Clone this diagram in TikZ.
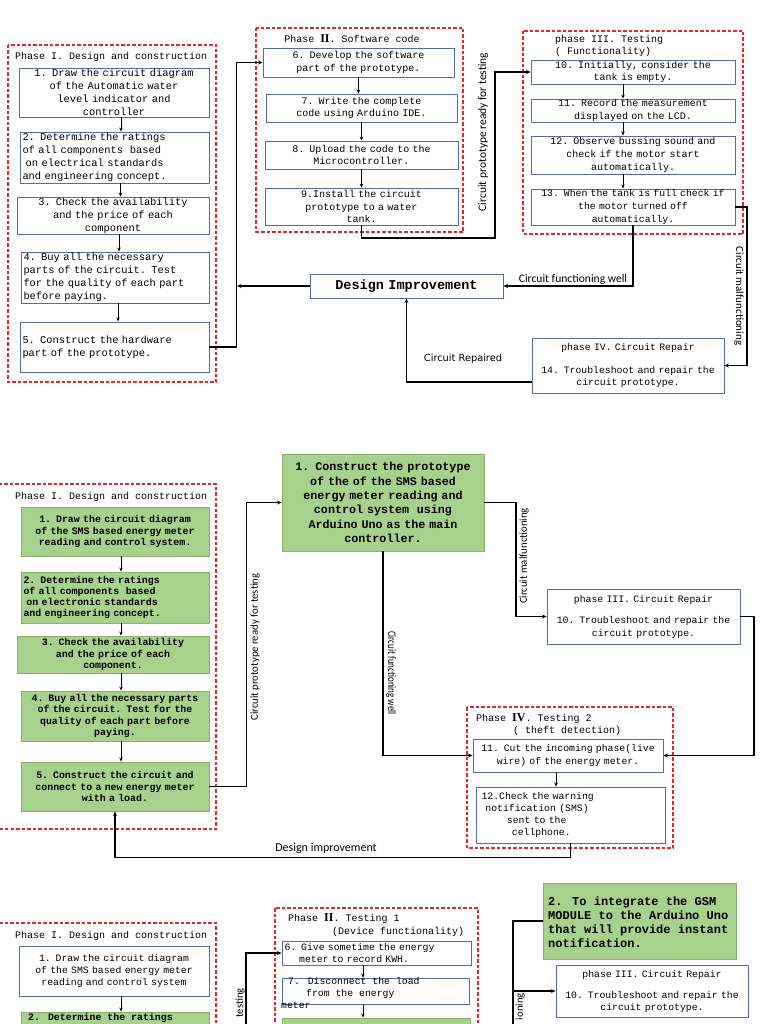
\documentclass[tikz,border=0pt]{standalone}
\usepackage{fontspec}
\setmainfont{Liberation Mono}
\newfontfamily\lab{Carlito}
\newfontfamily\labc[FakeStretch=0.78]{Carlito}
\newfontfamily\dv{DejaVu Sans}
\newfontfamily\ser{Liberation Serif}
\usetikzlibrary{arrows.meta}
\definecolor{bblue}{RGB}{80,110,160}
\definecolor{dred}{RGB}{226,40,44}
\definecolor{gfill}{RGB}{169,209,142}
\definecolor{gline}{RGB}{135,178,105}
\newcommand\mybox[7]{%
 \pgfmathsetmacro\myBW{(#5)-(#3)}\pgfmathsetmacro\myBH{(#6)-(#4)}%
 \pgfmathsetmacro\myBX{((#3)+(#5))/2}\pgfmathsetmacro\myBY{((#4)+(#6))/2}%
 \pgfmathsetmacro\myTW{\myBW-5}%
 \node[minimum width=\myBW pt, minimum height=\myBH pt, text width=\myTW pt, #1] (#2) at (\myBX,\myBY) {#7};}
\begin{document}
\begin{tikzpicture}[x=1pt,y=-1pt,
 wbox/.style={draw=bblue, line width=0.9pt, fill=white, inner xsep=2pt, inner ysep=0pt, align=center, font=\fontsize{10}{12.6}\selectfont},
 tf/.style={font=\fontsize{10.4}{13}\selectfont},
 gbox/.style={draw=gline, fill=gfill, line width=0.9pt, inner xsep=2pt, inner ysep=0pt, align=center, font=\bfseries\fontsize{9.9}{11.3}\selectfont},
 redframe/.style={draw=dred, dash pattern=on 3.5pt off 2pt, line width=1.3pt},
 ttl/.style={font=\fontsize{10}{12}\selectfont, inner sep=0pt},
 gtxt/.style={font=\bfseries\fontsize{9.9}{11.3}\selectfont, inner sep=0pt},
 lbl/.style={font=\lab\fontsize{11}{13}\selectfont, inner sep=0pt},
 sarr/.style={line width=0.8pt, -{Stealth[length=4pt,width=3.5pt]}},
 arr/.style={line width=1.3pt, -{Stealth[length=4.5pt,width=4pt]}},
 conn/.style={line width=1.3pt}]
\useasboundingbox (0,0) rectangle (768,1024);
\clip (0,0) rectangle (768,1024);
\fill[white] (0,0) rectangle (768,1024);

% ================= TOP =================
\draw[redframe] (8,45) rectangle (216,382);
\node[ttl, anchor=base west] (p1t) at (15,60) {Phase I. Design and construction};
\mybox{wbox,tf}{b1}{19}{68}{209}{117}{1. Draw the circuit diagram\\of the Automatic water\\level indicator and\\controller}
\mybox{wbox,tf,align=left}{b2}{20}{132}{209}{183}{2. Determine the ratings\\of all components~ based\\\hspace*{0.3em}on electrical standards\\and engineering concept.}
\mybox{wbox,tf}{b3}{17}{197}{209}{234}{3. Check the availability\\and the price of each\\component}
\mybox{wbox,tf,align=left}{b4}{21}{252}{209}{303}{4. Buy all the necessary\\parts of the circuit. Test\\for the quality of each part\\before paying.}
\mybox{wbox,tf,align=left}{b5}{20}{322}{209}{372}{5. Construct the hardware\\part of the prototype.}
\draw[sarr] ([xshift=7]b1.south) -- ([xshift=7]b1.south |- b2.north);
\draw[sarr] ([xshift=6]b2.south) -- ([xshift=6]b2.south |- b3.north);
\draw[sarr] ([xshift=6]b3.south) -- ([xshift=6]b3.south |- b4.north);
\draw[sarr] ([xshift=3]b4.south) -- ([xshift=3]b4.south |- b5.north);

\draw[redframe] (256,28) rectangle (463,232);
\node[ttl, anchor=base] (p2t) at (352,43) {Phase {\ser\bfseries\fontsize{12}{12}\selectfont II}. Software code};
\mybox{wbox}{b6}{263}{48}{454}{77}{6. Develop the software\\part of the prototype.}
\mybox{wbox}{b7}{266}{94}{457}{122}{7. Write the complete\\code using Arduino IDE.}
\mybox{wbox}{b8}{265}{141}{458}{169}{8. Upload the code to the\\Microcontroller.}
\mybox{wbox}{b9}{265}{188}{458}{225}{9.Install the circuit\\prototype to a water\\tank.}
\draw[sarr] (b6.south) -- (b6.south |- b7.north);
\draw[sarr] (b7.south) -- (b7.south |- b8.north);
\draw[sarr] (b8.south) -- (b8.south |- b9.north);

\draw[redframe] (523,31) rectangle (743,234);
\node[ttl, anchor=base west] (p3t) at (555,43) {phase III. Testing};
\node[ttl, anchor=base west] (p3s) at (555,55) {( Functionality)};
\mybox{wbox}{b10}{531}{60}{735}{84}{10. Initially, consider the\\tank is empty.}
\mybox{wbox}{b11}{531}{99}{735}{122}{11. Record the measurement\\displayed on the LCD.}
\mybox{wbox}{b12}{531}{136}{735}{174}{12. Observe bussing sound and\\check if the motor start\\automatically.}
\mybox{wbox,inner xsep=1pt,text width=202pt,font=\fontsize{9.8}{12.6}\selectfont}{b13}{531}{189}{735}{225}{13. When the tank is full check if\\the motor turned off\\automatically.}
\draw[sarr] ([xshift=-10]b10.south) -- ([xshift=-10]b10.south |- b11.north);
\draw[sarr] ([xshift=-10]b11.south) -- ([xshift=-10]b11.south |- b12.north);
\draw[sarr] ([xshift=-10]b12.south) -- ([xshift=-10]b12.south |- b13.north);

\mybox{wbox,font=\bfseries\fontsize{13.5}{14}\selectfont}{di}{310}{274}{503}{298}{Design Improvement}
\mybox{wbox,font=\fontsize{9.8}{12.3}\selectfont}{b14}{532}{338}{724}{393}{phase IV. Circuit Repair\\[10pt]14. Troubleshoot and repair the\\circuit prototype.}

\draw[arr] (b5.east) -- ++(27,0) |- (b6.west);
\coordinate (c1) at (495,238);
\draw[arr] (b9.south) |- (c1) |- (b10.west);
\coordinate (c2) at (747,207);
\draw[arr] (b13.east) -- (c2) |- (b14.east);
\draw[arr] (b13.south -| 633,0) |- (di.east);
\coordinate (c3) at (237,286);
\draw[arr] (di.west) -- (c3);
\draw[arr] ([yshift=-16.5]b14.west) -| (di.south);

\node[lbl, rotate=90, font=\lab\fontsize{11.5}{13}\selectfont] (l1) at (483,132) {Circuit prototype ready for testing};
\node[lbl, rotate=-90] (l2) at (739,296) {Circuit malfunctioning};
\node[lbl, anchor=base, font=\lab\fontsize{11.6}{13}\selectfont] (l3) at (573,282) {Circuit functioning well};
\node[lbl, font=\dv\fontsize{9.8}{11}\selectfont] (l4) at (463,359) {Circuit Repaired};

% ================= MIDDLE =================
\draw[redframe] (-2,484) rectangle (216,829);
\node[ttl, anchor=base west] (m1t) at (15,499) {Phase I. Design and construction};
\mybox{gbox}{g1}{21}{507}{209}{556}{1. Draw the circuit diagram\\of the SMS based energy meter\\reading and control system.}
\mybox{gbox,align=left}{g2}{21}{572}{209}{623}{2. Determine the ratings\\of all components~ based\\\hspace*{0.3em}on electronic standards\\and engineering concept.}
\mybox{gbox}{g3}{17}{636}{209}{673}{3. Check the availability\\and the price of each\\component.}
\mybox{gbox}{g4}{21}{691}{209}{741}{4. Buy all the necessary parts\\of the circuit. Test for the\\quality of each part before\\paying.}
\mybox{gbox}{g5}{21}{762}{209}{811}{5. Construct the circuit and\\connect to a new energy meter\\with a load.}
\draw[sarr] ([xshift=6]g1.south) -- ([xshift=6]g1.south |- g2.north);
\draw[sarr] ([xshift=6]g2.south) -- ([xshift=6]g2.south |- g3.north);
\draw[sarr] ([xshift=8]g3.south) -- ([xshift=8]g3.south |- g4.north);
\draw[sarr] ([xshift=6]g4.south) -- ([xshift=6]g4.south |- g5.north);

\mybox{gbox,font=\bfseries\fontsize{11.7}{14.3}\selectfont}{gbig}{282}{454}{484}{551}{1. Construct the prototype\\of the of the SMS based\\energy meter reading and\\control system~ using\\Arduino Uno as the main\\controller.}
\mybox{wbox,font=\fontsize{9.8}{12.5}\selectfont}{rep1}{547}{589}{740}{644}{phase III. Circuit Repair\\[9pt]10. Troubleshoot and repair the\\circuit prototype.}

\draw[redframe] (467,707) rectangle (673,848);
\node[ttl, anchor=base west] (m4t) at (476,721) {Phase {\ser\bfseries\fontsize{12}{12}\selectfont IV}. Testing 2};
\node[ttl, anchor=base west] (m4s) at (513,733) {( theft detection)};
\mybox{wbox,font=\fontsize{9.8}{12.3}\selectfont}{b11m}{473}{739}{663}{772}{11. Cut the incoming phase(live\\wire) of the energy meter.}
\mybox{wbox,align=left,inner xsep=5pt,text width=178pt,font=\fontsize{9.8}{12.3}\selectfont}{b12m}{476}{787}{665}{843}{12.Check the warning\\\hspace*{0.4em}notification (SMS)\\\hspace*{2.6em}sent to the\\\hspace*{3.1em}cellphone.}
\draw[sarr] ([xshift=-12]b11m.south) -- ([xshift=-12]b11m.south |- b12m.north);

\draw[arr] (g5.east) -- ++(37,0) |- (gbig.west);
\coordinate (c4) at (516,502.5);
\draw[arr] (gbig.east) -- (c4) |- (rep1.west);
\coordinate (c5) at (754,616.5);
\draw[arr] (rep1.east) -- (c5) |- (b11m.east);
\draw[arr] (gbig.south) |- (b11m.west);
\draw[arr] (b12m.south) -- ++(0,14) -| (g5.south);

\node[lbl, rotate=90, font=\lab\fontsize{10.7}{13}\selectfont] (l5) at (255,647) {Circuit prototype ready for testing};
\node[lbl, rotate=90, font=\lab\fontsize{10.7}{13}\selectfont] (l6) at (524,556) {Circuit malfunctioning};
\node[lbl, rotate=-90, font=\labc\fontsize{11.5}{13}\selectfont] (l7) at (391,673) {Circuit functioning well};
\node[lbl, anchor=base, font=\lab\fontsize{12}{14}\selectfont] (l8) at (326,851) {Design improvement};

% ================= BOTTOM =================
\draw[redframe] (-2,923) rectangle (216,1040);
\node[ttl, anchor=base west] (d1t) at (15,938) {Phase I. Design and construction};
\mybox{wbox,font=\fontsize{9.8}{12}\selectfont}{w1b}{19}{946}{209}{996}{1. Draw the circuit diagram\\of the SMS based energy meter\\reading and control system}
\mybox{gbox}{g2b}{21}{1012}{209}{1060}{}
\node[gtxt, anchor=base west] (g2bt) at (28,1020) {2. Determine the ratings};
\draw[sarr] ([xshift=7]w1b.south) -- ([xshift=7]w1b.south |- g2b.north);

\draw[redframe] (275,908) rectangle (478,1040);
\node[ttl, anchor=base west] (d2t) at (288,921) {Phase {\ser\bfseries\fontsize{12}{12}\selectfont II}. Testing 1};
\node[ttl, anchor=base west] (d2s) at (332,934) {(Device functionality)};
\mybox{wbox,align=left,font=\fontsize{9.8}{12}\selectfont}{b6b}{282}{941}{471}{965}{6. Give sometime the energy\\\hspace*{1.5em}meter to record KWH.}
\mybox{wbox}{b7b}{282}{978}{469}{1004}{}
\node[ttl, anchor=base west, font=\fontsize{9.8}{12}\selectfont] (b7t1) at (288,984) {7. Disconnect the load};
\node[ttl, anchor=base west, font=\fontsize{9.8}{12}\selectfont] (b7t2) at (306,996) {from the energy};
\node[ttl, anchor=base west, font=\fontsize{9.8}{12}\selectfont] (b7t3) at (281,1008) {meter};
\mybox{gbox}{g8b}{282}{1018}{470}{1060}{}
\draw[sarr] ([xshift=-13.5]b6b.south) -- ([xshift=-13.5]b6b.south |- b7b.north);
\draw[sarr] ([xshift=-12.5]b7b.south) -- ([xshift=-12.5]b7b.south |- g8b.north);
\coordinate (c6) at (246,1030);
\draw[arr] (c6) |- (b6b.west);
\node[lbl, rotate=90, anchor=east, font=\lab\fontsize{10.7}{13}\selectfont] (l9) at (240,988) {testing};

\mybox{gbox}{gsm}{543}{883}{736}{959}{}
\node[inner sep=0pt, anchor=north west, align=left, font=\bfseries\fontsize{12}{14}\selectfont] (gsmt) at (548,897) {2. To integrate the GSM\\MODULE to the Arduino Uno\\that will provide instant\\notification.};
\mybox{wbox,font=\fontsize{9.8}{12}\selectfont}{rep2}{556}{965}{748}{1017}{phase III. Circuit Repair\\[9pt]10. Troubleshoot and repair the\\circuit prototype.}
\coordinate (c7) at (513,1030);
\draw[conn] (gsm.west) -| (c7);
\coordinate (c8) at (513,991);
\draw[arr] (c8) -- (rep2.west);
\node[lbl, rotate=90, anchor=east, font=\lab\fontsize{10.7}{13}\selectfont] (l10) at (520,993) {ioning};
\end{tikzpicture}
\end{document}
